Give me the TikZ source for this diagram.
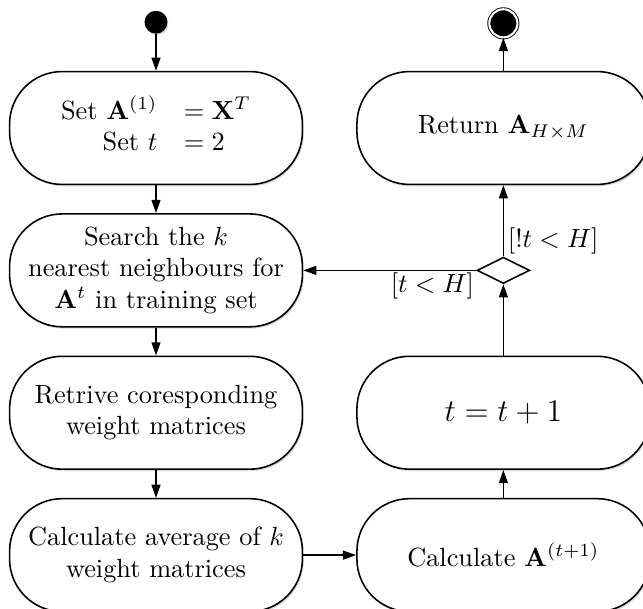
\documentclass[tikz,border=0pt]{standalone}
\usepackage{amsmath,amssymb}
\usepackage{tikz}
\usetikzlibrary{arrows.meta,positioning,shapes.geometric,shadows}
\tikzstyle{actstep}=[rectangle,rounded corners=20pt,draw=black,fill=white,line width=0.6pt,
                  minimum height=42.9pt,minimum width=111.3pt,align=center,
                  drop shadow={shadow xshift=0.5pt,shadow yshift=-0.7pt,opacity=0.3}]
\tikzstyle{decision}=[diamond,draw=black,fill=white,line width=0.6pt,aspect=2,
                  minimum width=20pt,minimum height=10pt,inner sep=0pt]
\tikzstyle{startdot}=[circle,fill=black,minimum size=8.7pt,inner sep=0pt,
                  drop shadow={shadow xshift=0.4pt,shadow yshift=-0.5pt,opacity=0.3}]
\tikzstyle{enddot}=[circle,fill=black,draw=black,double=white,double distance=0.8pt,
                  line width=0.35pt,minimum size=10.7pt,inner sep=0pt]
\tikzstyle{arrow}=[-{Triangle[length=5pt,width=3.4pt]},line width=0.5pt]

\begin{document}
\begin{tikzpicture}[x=0.38pt,y=-0.38pt,node distance=10.6pt and 20.1pt]
      \useasboundingbox (0,0) rectangle (643,608);
      \node[actstep] (init) at (156,128) {$\begin{array}{rl}\text{Set }\mathbf{A}^{(1)} & =\mathbf{X}^T\\ \text{Set }t & =2\end{array}$};
      \node[actstep,below=of init] (knn) {Search the $k$\\nearest neighbours for\\$\mathbf{A}^t$ in training set};
      \node[actstep,below=of knn] (wmat) {Retrive coresponding\\weight matrices};
      \node[actstep,below=of wmat] (avg) {Calculate average of $k$\\weight matrices};
      \node[actstep,right=of avg] (calc) {Calculate $\mathbf{A}^{(t+1)}$};
      \node[actstep,right=of wmat] (incr) {\large $t=t+1$};
      \node[actstep,right=of init] (ret) {Return $\mathbf{A}_{H\times M}$};
      \node[decision] (test) at (ret |- knn) {};
      \node[startdot,above=13.9pt of init] (start) {};
      \node[enddot,above=12.5pt of ret] (stop) {};

      \draw[arrow] (start)--(init);
      \draw[arrow] (init)--(knn);
      \draw[arrow] (knn)--(wmat);
      \draw[arrow] (wmat)--(avg);
      \draw[arrow] (avg)--(calc);
      \draw[arrow] (calc)--(incr);
      \draw[arrow] (incr)--(test);
      \draw[arrow] (test)--node[right,pos=0.22,inner sep=1.5pt] {$[!t<H]$} (ret);
      \draw[arrow] (test)--node[below left,pos=0,inner sep=0.6pt] {$[t<H]$} (knn);
      \draw[arrow] (ret)--(stop);
    \end{tikzpicture}
\end{document}
